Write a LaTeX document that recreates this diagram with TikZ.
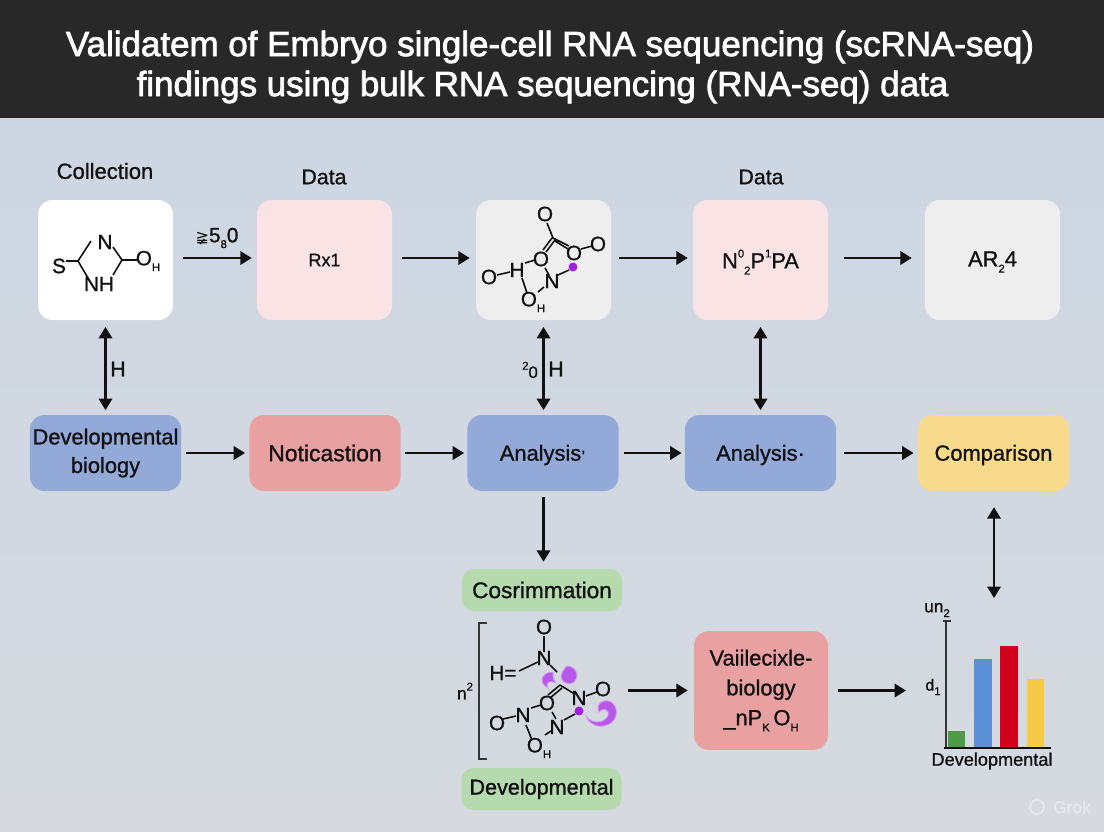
\documentclass[tikz,border=0pt]{standalone}
\usepackage{fontspec}
\usetikzlibrary{arrows.meta}
\setmainfont{Liberation Sans}[FakeBold=1.0]
\newfontfamily\titlefont{Liberation Sans}[FakeBold=2.2]
\newfontfamily\symfont{DejaVu Sans}
\newcommand{\fs}[1]{\fontsize{#1}{#1}\selectfont}
\newcommand{\sbt}[1]{\raisebox{-0.28em}{\fs{8.5}#1}}
\newcommand{\spt}[1]{\raisebox{0.5em}{\fs{8.5}#1}}
\newcommand{\lo}[1]{\raisebox{-1.5pt}[\height][\depth]{#1}}
\definecolor{ink}{HTML}{111111}
\definecolor{hdr}{HTML}{282828}
\definecolor{bgtop}{HTML}{CDD6E2}
\definecolor{bgbot}{HTML}{D6DAE0}
\definecolor{bluebox}{HTML}{93A9D8}
\definecolor{redbox}{HTML}{E9A0A0}
\definecolor{yelbox}{HTML}{F8DA8C}
\definecolor{grnbox}{HTML}{B4DAAE}
\definecolor{pinkbox}{HTML}{F9E3E5}
\definecolor{grybox}{HTML}{EEEEEE}
\definecolor{purp}{HTML}{A020E0}
\definecolor{barg}{HTML}{4E9A47}
\definecolor{barb}{HTML}{5B8FD8}
\definecolor{barr}{HTML}{D0021B}
\definecolor{bary}{HTML}{F8C945}
\tikzset{
  basebox/.style={rounded corners=11pt, inner sep=0pt, align=center, text=ink, font=\fs{16.4}},
  topbox/.style={basebox, minimum width=101.25pt, minimum height=90pt},
  midbox/.style={basebox, minimum width=113.5pt, minimum height=57pt},
  tagbox/.style={basebox, rounded corners=9pt, minimum width=120pt, minimum height=31.5pt, fill=grnbox},
  lbl/.style={inner sep=0pt, text=ink, font=\fs{#1}},
  lbl/.default=16.5,
  atom/.style={inner sep=0pt, text=ink, font=\fs{15.5}},
  bond/.style={line width=1.2pt, draw=ink},
  arr/.style={-{Triangle[length=8.5pt,width=10pt]}, line width=1.7pt, draw=ink},
  darr/.style={{Triangle[length=8.5pt,width=10pt]}-{Triangle[length=8.5pt,width=10pt]}, line width=1.7pt, draw=ink},
  swirl/.style={fill=purp!75, draw=purp!45, line width=0.6pt},
}
\begin{document}
\begin{tikzpicture}[x=0.75pt,y=-0.75pt]
\useasboundingbox (0,0) rectangle (1104,832);
% background and header
\shade[top color=bgtop, bottom color=bgbot] (0,118) rectangle (1104,832);
\fill[hdr] (0,0) rectangle (1104,118);
\node[text=white, font=\titlefont\fs{26.2}, inner sep=0pt] (t1) at (550,47) {Validatem of Embryo single-cell RNA sequencing (scRNA-seq)};
\node[text=white, font=\titlefont\fs{26.2}, inner sep=0pt] (t2) at (542.5,87) {findings using bulk RNA sequencing (RNA-seq) data};
% top row
\node[topbox, fill=white] (a1) at (105.5,260) {};
\node[topbox, fill=pinkbox, font=\fs{13.5}] (a2) at (324.5,260) {Rx1};
\node[topbox, fill=grybox] (a3) at (543.5,260) {};
\node[topbox, fill=pinkbox] (a4) at (760.5,260) {\lo{N\spt{0}\sbt{2}P\spt{1}PA}};
\node[topbox, fill=grybox] (a5) at (992.5,260) {\lo{AR\sbt{2}4}};
\node[lbl] (c1) at (105,171) {Collection};
\node[lbl=16] (c2) at (324,177) {Data};
\node[lbl=16] (c3) at (761,177) {Data};
% middle row
\node[midbox, fill=bluebox] (b1) at (105.5,453) {Developmental\\[5pt]biology};
\node[midbox, fill=redbox, font=\fs{17.2}] (b2) at (325,453) {Noticastion};
\node[midbox, fill=bluebox] (b3) at (543,453) {\lo{Analysis\textsuperscript{,}}};
\node[midbox, fill=bluebox] (b4) at (760.5,453) {\lo{Analysis·}};
\node[midbox, fill=yelbox] (b5) at (993.5,453) {\lo{Comparison}};
% lower boxes
\node[tagbox, font=\fs{17}] (g1) at (542,590) {Cosrimmation};
\node[tagbox, font=\fs{16.2}] (g2) at (541.5,789) {Developmental};
\node[basebox, fill=redbox, minimum width=100.5pt, minimum height=89pt] (r1) at (761,690.5) {Vaiilecixle-\\[6pt]biology\\[6pt]\_nP\sbt{K}\,O\sbt{H}};
% chart anchor and chart
\coordinate (chartin) at (906,690.5);
\coordinate (chartout) at (994,598);
\fill[barg] (948,731) rectangle (965,748);
\fill[barb] (974,659) rectangle (992,748);
\fill[barr] (1000,646) rectangle (1018,748);
\fill[bary] (1027,679) rectangle (1044,748);
\draw[line width=1.1pt, draw=ink!85] (943,621) -- (951,621) (946,621) -- (946,748);
\draw[line width=1.1pt, draw=ink] (944,748) -- (1051,748);
\node[lbl=13] (u1) at (937,610) {un\sbt{2}};
\node[lbl=12] (u2) at (933,687) {d\sbt{1}};
\node[lbl=13.6] (u3) at (992,761) {Developmental};
% horizontal connectors
\foreach \p/\q/\s/\e in {a1/a2/7.5/3.75, a2/a3/7.5/4.5, a3/a4/6/3.75, a4/a5/12/9.75}
  \draw[arr, shorten <=\s pt, shorten >=\e pt] ([yshift=1.5pt]\p.east) -- ([yshift=1.5pt]\q.west);
\foreach \p/\q/\s/\e in {b1/b2/3.75/3, b2/b3/3/2.25, b3/b4/3.75/2.25, b4/b5/6/3}
  \draw[arr, shorten <=\s pt, shorten >=\e pt] (\p.east) -- (\q.west);
% vertical connectors
\draw[darr, shorten <=5pt, shorten >=3.5pt] (a1.south) -- (b1.north);
\draw[darr, shorten <=5pt, shorten >=3.5pt] (a3.south) -- (a3.south |- b3.north);
\draw[darr, shorten <=5pt, shorten >=3.5pt] (a4.south) -- (b4.north);
\draw[arr, shorten <=4.5pt, shorten >=5.25pt] (a3.south |- b3.south) -- (a3.south |- g1.north);
\draw[darr, shorten <=12pt] (chartout |- b5.south) -- (chartout);
\node[lbl=16] (h1) at (118,369) {H};
\node[lbl=16] (h2) at (556,369) {H};
\node[lbl=12.5] (h3) at (530,370) {\spt{2}0};
\node[lbl=15.5] (h4) at (217,238) {{\symfont\fs{12}≩}5\sbt{8}0};
% molecule 1
\node[atom] (m1s) at (59,266) {S};
\node[atom] (m1n) at (105,242) {N};
\node[atom] (m1nh) at (99,284) {NH};
\node[atom] (m1o) at (148,261) {O\sbt{H}};
\draw[bond] (66,261) -- (78,261) -- (91,241) (78,261) -- (88,278)
  (113,247) -- (122,260) -- (113,275) (122,260) -- (137,260);
% molecule 2
\node[atom] (m2a) at (545,214) {O};
\node[atom] (m2b) at (574,253) {O};
\node[atom] (m2c) at (598,244) {O};
\node[atom] (m2d) at (541,259) {O};
\node[atom] (m2e) at (517,270) {H};
\node[atom] (m2f) at (489,277) {O};
\node[atom] (m2g) at (533,302) {O\sbt{H}};
\node[atom] (m2h) at (552,281) {N};
\draw[bond] (547,223) -- (553,238) (552,238) -- (543,250) (555,240) -- (546,252)
  (553,238) -- (569,246) (555,241) -- (568,249) (581,249) -- (592,246)
  (497,275) -- (510,272) (525,263) -- (535,260) (522,278) -- (527,293)
  (538,292) -- (544,287) (545,268) -- (549,275) (558,275) -- (569,270);
\fill[purp] (573,267) circle (4.5);
% molecule 3
\node[lbl=13] (m3n) at (465,691) {n\spt{2}};
\draw[line width=1pt, draw=ink!85] (487,623) -- (479,623) -- (479,759) -- (487,759);
\node[atom] (m3a) at (544,627) {O};
\node[atom] (m3b) at (544,658) {N};
\node[atom] (m3c) at (503,673) {H=};
\node[atom] (m3d) at (579,698) {N};
\node[atom] (m3e) at (603,689) {O};
\node[atom] (m3f) at (547,703) {O};
\node[atom] (m3g) at (523,715) {N};
\node[atom] (m3h) at (497,723) {O};
\node[atom] (m3i) at (539,748) {O\sbt{H}};
\node[atom] (m3j) at (557,727) {N};
% swirls
\path[swirl] (553,672) .. controls (540,672) and (539,684) .. (548,688) .. controls (545,682) and (550,680) .. (556,683) .. controls (552,678) and (553,675) .. (553,672) -- cycle;
\path[swirl] (567,666) .. controls (576,666) and (580,676) .. (574,682) .. controls (568,686) and (561,682) .. (561,676) .. controls (562,672) and (564,669) .. (567,666) -- cycle;
\path[swirl] (586,716) .. controls (592,730) and (608,728) .. (614,720) .. controls (620,710) and (614,699) .. (604,701) .. controls (598,702) and (597,708) .. (599,712) .. controls (602,708) and (610,708) .. (608,716) .. controls (603,724) and (592,724) .. (586,716) -- cycle;
\draw[bond] (544,636) -- (544,652) (519,671) -- (538,662) (550,665) -- (557,672)
  (548,695) -- (560,685) (550,698) -- (562,688) (560,685) -- (573,693)
  (586,696) -- (597,692) (503,719) -- (516,716) (531,708) -- (541,705)
  (526,725) -- (532,740) (545,735) -- (551,731) (552,712) -- (556,719) (564,720) -- (575,714);
\fill[purp] (579,711) circle (4.5);
% lower connectors
\coordinate (molout) at (628,690.5);
\draw[arr, shorten >=4.5pt] (molout) -- (r1.west);
\draw[arr, shorten <=7.5pt] (r1.east) -- (chartin);
% watermark
\node[inner sep=0pt, text=white!40!bgbot, font=\fs{13}] (wm) at (1072,807) {Grok};
\draw[white!40!bgbot, line width=1.2pt] (1037,807) circle (7);
\end{tikzpicture}
\end{document}
